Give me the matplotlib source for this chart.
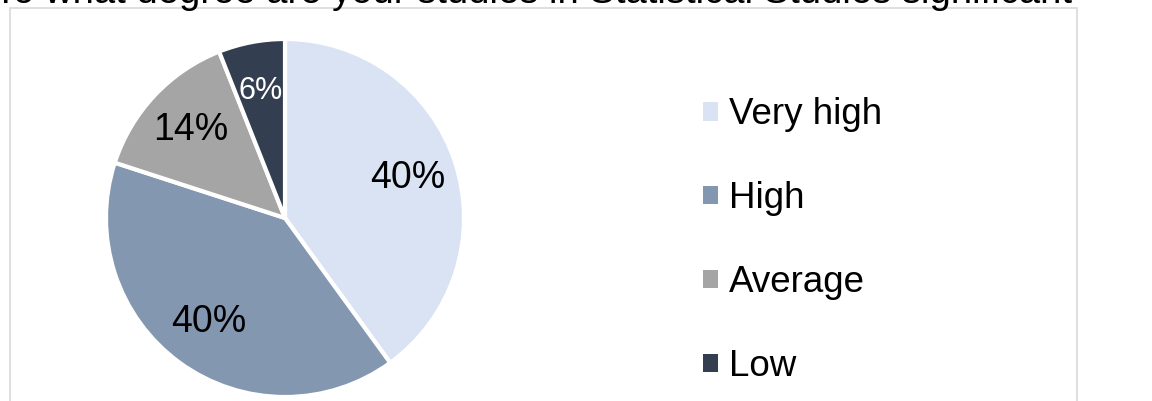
import matplotlib
matplotlib.use('Agg')
import matplotlib.pyplot as plt
from matplotlib.patches import Rectangle

plt.rcParams['font.family'] = ['Liberation Sans', 'DejaVu Sans']

# ── Survey answers ────────────────────────────────────────────────────
categories = ['Very high', 'High', 'Average', 'Low']
shares = [40, 40, 14, 6]
colors = ['#dae3f3', '#8497b0', '#a5a5a5', '#333f50']
label_colors = ['black', 'black', 'black', 'white']
title = 'To what degree are your studies in Statistical Studies significant'

W, H = 1152, 401
fig = plt.figure(figsize=(W / 100, H / 100), dpi=100)
ax = fig.add_axes([0, 0, 1, 1])

# chart frame (bottom edge runs off the canvas)
ax.add_patch(Rectangle((10, -20), 1067, H - 8 + 20, fill=False,
                       edgecolor='#d9d9d9', linewidth=1.2))

wedges, _, pct_texts = ax.pie(
    shares, colors=colors, startangle=90, counterclock=False,
    center=(285, H - 218), radius=179, autopct='%1.0f%%', pctdistance=0.72,
    wedgeprops=dict(edgecolor='white', linewidth=3),
    textprops=dict(fontsize=27), frame=True)
ax.set_xlim(0, W)
ax.set_ylim(0, H)
ax.set_aspect('equal')
ax.axis('off')
for t, c in zip(pct_texts, label_colors):
    t.set_color(c)
pct_texts[3].set_fontsize(22)

leg = ax.legend(wedges, categories, loc='upper left',
                bbox_to_anchor=(685 / W, 1 - 79 / H), frameon=False,
                fontsize=26.5, handlelength=0.4, handleheight=0.4,
                handletextpad=0.3, labelspacing=1.33, borderpad=0)
for h in leg.legend_handles:
    h.set_linewidth(0)

ax.text(-6, H - 3, title, fontsize=27.5, ha='left', va='baseline')

fig.savefig('out.png', dpi=100)
